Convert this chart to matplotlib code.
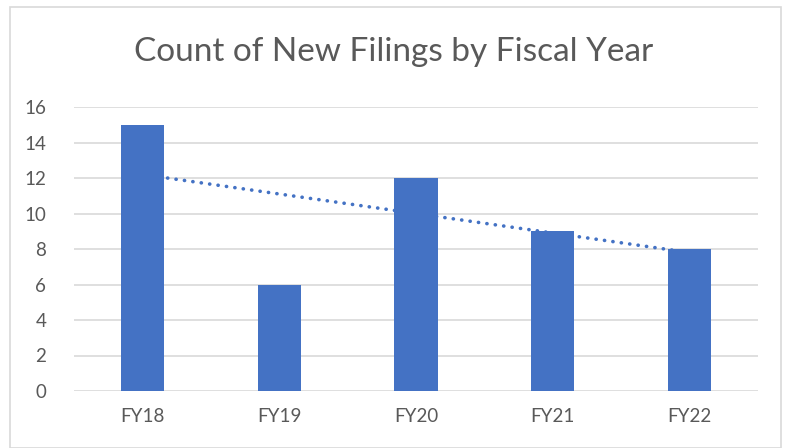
import numpy as np
import matplotlib
matplotlib.use("Agg")
import matplotlib.pyplot as plt
from matplotlib.patches import Rectangle

categories = ["FY18", "FY19", "FY20", "FY21", "FY22"]
values = [15, 6, 12, 9, 8]
yticks = [0, 2, 4, 6, 8, 10, 12, 14, 16]
title = "Count of New Filings by Fiscal Year"

plt.rcParams['font.family'] = ['Lato', 'DejaVu Sans']
W, H = 787, 448
fig = plt.figure(figsize=(W/100, H/100), dpi=100)
fig.patch.set_facecolor('white')

# outer chart border
fig.add_artist(Rectangle((10/W, 0), (781-10)/W, (H-7)/H, transform=fig.transFigure,
                         fill=False, edgecolor='#d9d9d9', linewidth=1.2))

ax = fig.add_axes([74/W, 1-391/H, (758-74)/W, (391-107)/H])
x = np.arange(len(categories))
ax.bar(x, values, width=0.315, color='#4472c4', zorder=3)

# linear trendline from data
coef = np.polyfit(x, values, 1)
ax.plot(x, np.polyval(coef, x), linestyle=(0, (0.05, 2.3)), color='#4472c4',
        linewidth=2.6, dash_capstyle='round', zorder=2)

ax.set_xlim(-0.5, len(categories) - 0.5)
ax.set_ylim(0, 16)
ax.set_yticks(yticks)
ax.set_xticks(x)
ax.set_xticklabels(categories)
ax.grid(axis='y', color='#d9d9d9', linewidth=1.2, zorder=0)
ax.set_axisbelow(True)
for s in ax.spines.values():
    s.set_visible(False)
ax.tick_params(axis='both', length=0, labelsize=13.5, colors='#595959')
ax.tick_params(axis='y', pad=20)
ax.tick_params(axis='x', pad=12)

fig.text(0.5, 1-52/H, title, ha='center', va='center', fontsize=24, color='#595959')

fig.savefig("out.png", dpi=100)
